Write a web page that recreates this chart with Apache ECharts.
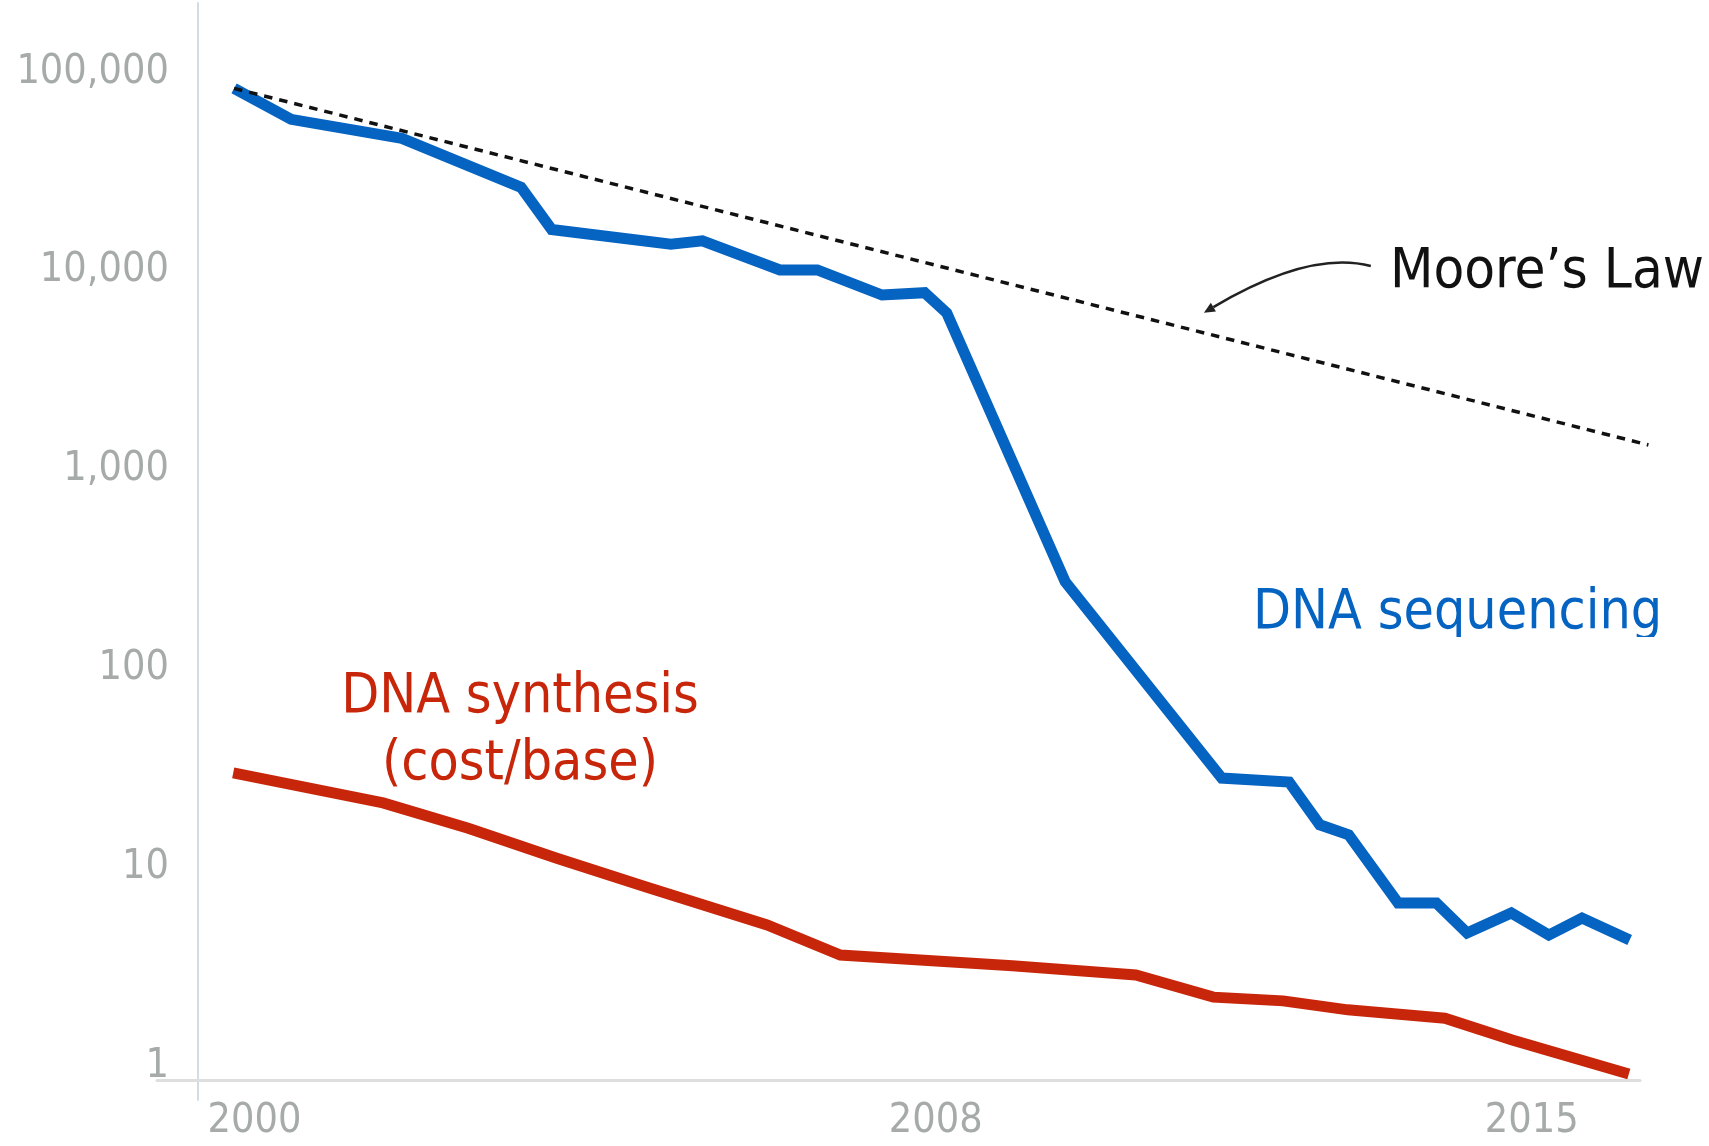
<!DOCTYPE html>
<html>
<head>
<meta charset="utf-8">
<script src="https://cdn.jsdelivr.net/npm/echarts@6/dist/echarts.min.js"></script>
<style>
  html, body { margin: 0; padding: 0; background: #ffffff; }
  #chart { width: 1709px; height: 1146px; }
</style>
</head>
<body>
<div id="chart"></div>
<script>
// Cost of DNA sequencing (per unit) by year
const sequencingYears = [1999.76, 2000.43, 2001.73, 2003.13, 2003.49, 2004.89, 2005.26, 2006.17,
  2006.61, 2007.37, 2007.87, 2008.13, 2009.52, 2011.36, 2012.15, 2012.51, 2012.85, 2013.43,
  2013.88, 2014.24, 2014.76, 2015.20, 2015.59, 2016.15];
const sequencingCost = [79000, 55200, 44300, 25100, 15400, 13000, 13500, 9640,
  9640, 7210, 7410, 5860, 261, 26.8, 25.6, 15.6, 13.9, 6.3,
  6.3, 4.46, 5.62, 4.35, 5.3, 4.11];

// Cost of DNA synthesis (cost/base) by year
const synthesisYears = [1999.75, 2001.51, 2002.51, 2003.55, 2004.60, 2006.02, 2006.88,
  2008.90, 2010.35, 2011.26, 2012.08, 2012.84, 2013.98, 2014.77, 2016.14];
const synthesisCost = [28.5, 20.1, 15.0, 10.6, 7.59, 4.89, 3.45,
  3.05, 2.74, 2.12, 2.03, 1.83, 1.66, 1.29, 0.87];

// Moore's Law reference trend
const mooreYears = [1999.76, 2016.37];
const mooreCost = [79000, 1270];

// Axis tick labels
const yearTicks = [2000, 2008, 2015];
const costTicks = [1, 10, 100, 1000, 10000, 100000];

// Annotation arrow pointing at the Moore's Law trend: tail, bend, tip
const arrowYears = [2013.11, 2012.39, 2011.15];
const arrowCost = [10090, 12150, 5875];

const FONT = '"DejaVu Sans Condensed", "DejaVu Sans", sans-serif';
const BLUE = '#0563c1';
const RED = '#c8260a';
const LABEL_GREY = '#a6abaa';

const pairs = (xs, ys) => xs.map((x, i) => [x, ys[i]]);

const chart = echarts.init(document.getElementById('chart'), null, { renderer: 'canvas' });

const option = {
  animation: false,
  backgroundColor: '#ffffff',
  grid: [
    { left: 194.9, right: 41, top: 68, bottom: 84 },       // plotting area
    { left: 198, top: 3, width: 1, bottom: 46 },            // vertical rule
    { left: 157, right: 69, top: 3, bottom: 66 }            // horizontal rule
  ],
  xAxis: [
    {
      gridIndex: 0, type: 'value', min: 1999.3, max: 2016.6,
      axisLine: { show: false }, axisTick: { show: false }, splitLine: { show: false },
      axisLabel: {
        customValues: yearTicks, margin: 39,
        color: LABEL_GREY, fontSize: 41, fontFamily: FONT,
        formatter: v => String(Math.round(v))
      }
    },
    { gridIndex: 1, type: 'value', show: false },
    {
      gridIndex: 2, type: 'value', min: 0, max: 1,
      axisLine: { show: true, lineStyle: { color: '#dedede', width: 3 } },
      axisTick: { show: false }, axisLabel: { show: false }, splitLine: { show: false }
    }
  ],
  yAxis: [
    {
      gridIndex: 0, type: 'log', logBase: 10, min: 1, max: 100000,
      axisLine: { show: false }, axisTick: { show: false }, splitLine: { show: false },
      axisLabel: {
        customValues: costTicks, margin: 26,
        color: LABEL_GREY, fontSize: 41, fontFamily: FONT,
        formatter: v => '{v|' + Math.round(v).toLocaleString('en-US') + '}',
        rich: {
          v: { color: LABEL_GREY, fontSize: 41, fontFamily: FONT, padding: [8, 0, 0, 0] }
        }
      }
    },
    {
      gridIndex: 1, type: 'value', min: 0, max: 1,
      axisLine: { show: true, lineStyle: { color: '#d3dbe3', width: 2 } },
      axisTick: { show: false }, axisLabel: { show: false }, splitLine: { show: false }
    },
    { gridIndex: 2, type: 'value', show: false, min: 0, max: 1 }
  ],
  series: [
    {
      name: 'DNA synthesis', type: 'line', xAxisIndex: 0, yAxisIndex: 0,
      data: pairs(synthesisYears, synthesisCost),
      showSymbol: false, clip: false, silent: true, z: 3,
      lineStyle: { color: RED, width: 11, join: 'miter' }
    },
    {
      name: 'DNA sequencing', type: 'line', xAxisIndex: 0, yAxisIndex: 0,
      data: pairs(sequencingYears, sequencingCost),
      showSymbol: false, clip: false, silent: true, z: 3,
      lineStyle: { color: BLUE, width: 11, join: 'miter' }
    },
    {
      name: "Moore's Law", type: 'line', xAxisIndex: 0, yAxisIndex: 0,
      data: pairs(mooreYears, mooreCost),
      showSymbol: false, clip: false, silent: true, z: 4,
      lineStyle: { color: '#111111', width: 3.5, type: [8.5, 7], cap: 'butt' }
    }
  ]
};

chart.setOption(option);

// Annotations: series labels and the curved arrow onto the trend line
const [tail, bend, tip] = arrowYears.map((yr, i) =>
  chart.convertToPixel({ gridIndex: 0 }, [yr, arrowCost[i]]));
const dx = tip[0] - bend[0], dy = tip[1] - bend[1];
const len = Math.hypot(dx, dy);
const ux = dx / len, uy = dy / len;
const headLen = 11, headHalf = 5;
const baseX = tip[0] - ux * headLen, baseY = tip[1] - uy * headLen;

chart.setOption({
  graphic: [
    {
      type: 'bezierCurve', z: 10, silent: true,
      shape: { x1: tail[0], y1: tail[1], x2: baseX, y2: baseY, cpx1: bend[0], cpy1: bend[1] },
      style: { stroke: '#222222', lineWidth: 2.5, fill: null }
    },
    {
      type: 'polygon', z: 10, silent: true,
      shape: { points: [
        [tip[0], tip[1]],
        [baseX - uy * headHalf, baseY + ux * headHalf],
        [baseX + uy * headHalf, baseY - ux * headHalf]
      ] },
      style: { fill: '#222222' }
    },
    {
      type: 'text', z: 10, silent: true, x: 1390, y: 272,
      style: { text: 'Moore’s Law', fill: '#111111', fontSize: 56, fontFamily: FONT,
               align: 'left', verticalAlign: 'middle' }
    },
    {
      type: 'text', z: 10, silent: true, x: 1253, y: 614,
      style: { text: 'DNA sequencing', fill: BLUE, fontSize: 55, fontFamily: FONT,
               align: 'left', verticalAlign: 'middle' }
    },
    {
      // the sequencing caption is cut just below its baseline
      type: 'rect', z: 11, silent: true,
      shape: { x: 1245, y: 637, width: 430, height: 24 },
      style: { fill: '#ffffff' }
    },
    {
      type: 'text', z: 10, silent: true, x: 520, y: 731,
      style: { text: 'DNA synthesis\n(cost/base)', fill: RED, fontSize: 55, fontFamily: FONT,
               lineHeight: 67, align: 'center', verticalAlign: 'middle' }
    }
  ]
});
</script>
</body>
</html>
